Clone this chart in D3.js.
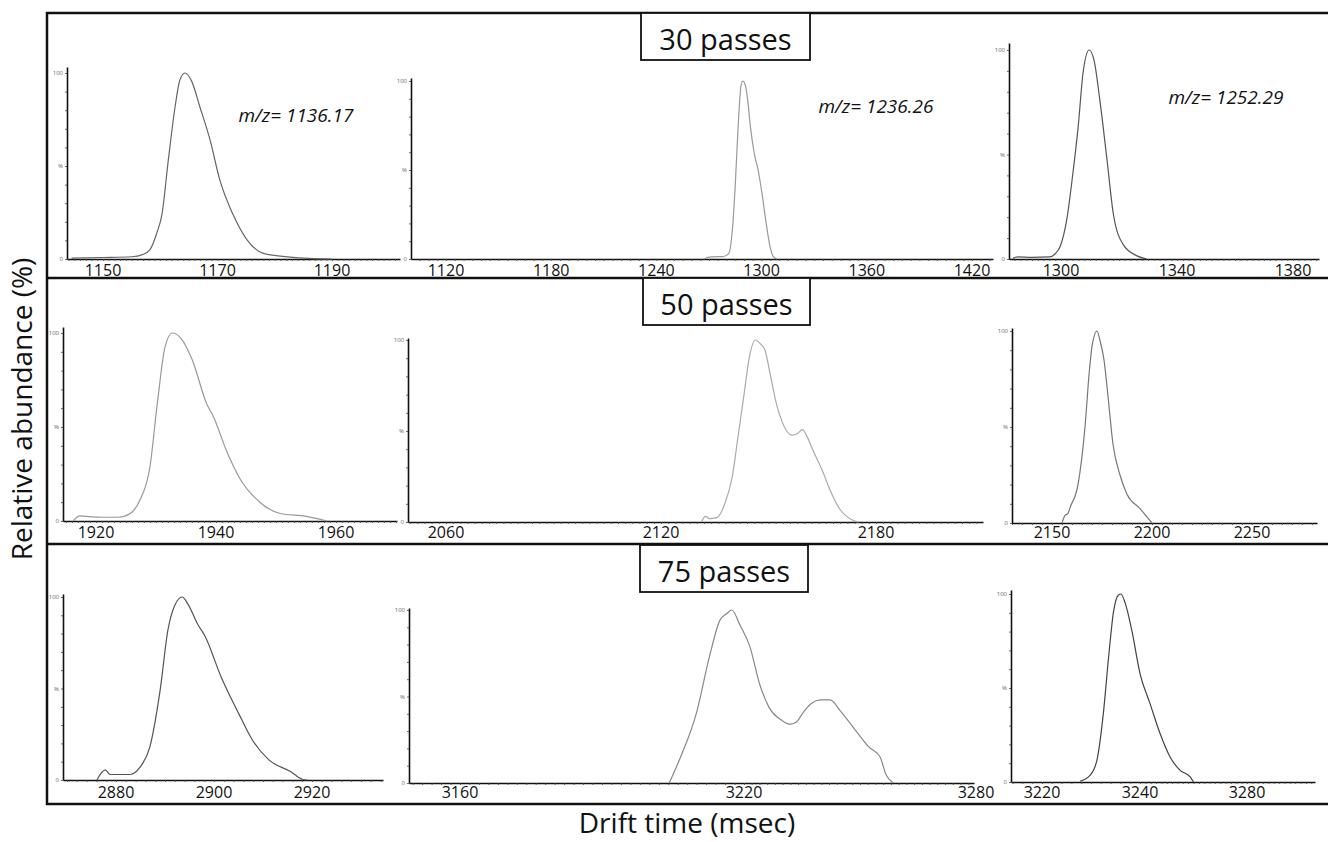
<!DOCTYPE html>
<html>
<head>
<meta charset="utf-8">
<script src="https://cdn.jsdelivr.net/npm/d3@7"></script>
<style>
  body { margin: 0; background: #fff; }
  svg { display: block; font-family: "Open Sans", sans-serif; }
</style>
</head>
<body>
<svg id="chart" width="1328" height="842"></svg>
<script>
// ---- data: [drift time, relative abundance %] ----
const rowTitles = ['30 passes', '50 passes', '75 passes'];
const mzLabels = ['m/z= 1136.17', 'm/z= 1236.26', 'm/z= 1252.29'];

const ticks30 = [[1150, 1170, 1190], [1120, 1180, 1240, 1300, 1360, 1420], [1300, 1340, 1380]];
const ticks50 = [[1920, 1940, 1960], [2060, 2120, 2180], [2150, 2200, 2250]];
const ticks75 = [[2880, 2900, 2920], [3160, 3220, 3280], [3220, 3240, 3280]];

const p30a = [[1144.5, 0.5], [1150, 0.8], [1155, 1.2], [1157, 2.5], [1158.2, 5], [1159.4, 14], [1160.3, 24], [1161.4, 53],
  [1162.6, 82], [1163.4, 96], [1164.3, 100], [1165.5, 95.5], [1166.9, 82], [1168.7, 64], [1170.4, 42.5], [1172.7, 24],
  [1175, 11], [1178, 3], [1182.7, 1], [1186, 0.3], [1190, 0]];
const p30b = [[1266.9, 0], [1271.3, 1.2], [1275.7, 1.3], [1277.9, 1.3], [1281.2, 3], [1283.3, 16], [1284.9, 40], [1286.7, 76],
  [1288.2, 97], [1289.2, 100], [1290.6, 98], [1292.1, 89], [1293.6, 74.5], [1295.8, 59.4], [1298.0, 50], [1300.2, 37],
  [1302.4, 21.5], [1304.6, 8], [1306.7, 1.3], [1308.9, 0]];
const p30c = [[1283.4, 0.3], [1285, 1], [1290, 0.8], [1296, 1], [1298, 2.5], [1299.7, 6], [1302, 19], [1304.1, 41],
  [1305.9, 63], [1307.6, 89], [1309.7, 100], [1311.4, 95], [1313.4, 76], [1315.9, 47], [1318, 22], [1321.4, 7],
  [1326.2, 1.5], [1329.6, 0]];

const p50a = [[1916.2, 0], [1917.3, 2.7], [1919, 2.3], [1921, 2], [1923.7, 2], [1925.7, 4], [1927.3, 11], [1929, 29],
  [1930.2, 62], [1931.5, 92.5], [1932.7, 100], [1934.2, 97], [1936, 86], [1938.5, 62], [1939.5, 56], [1941.8, 37],
  [1944, 22.5], [1947.3, 10], [1950.7, 4], [1955, 2.5], [1958.5, 0]];
const p50b = [[2131.3, 0], [2132.4, 3.1], [2133.5, 1.8], [2135.6, 2.4], [2137.8, 10], [2139.9, 25], [2141.5, 47],
  [2143.1, 69], [2144.7, 91], [2146.3, 100], [2147.7, 98], [2149, 94.5], [2150.6, 80], [2152.2, 65], [2153.8, 55],
  [2156.5, 47.7], [2158.1, 48.6], [2159.5, 50.8], [2160.7, 47.2], [2162.4, 39.4], [2165, 28.4], [2167.2, 17.4],
  [2169.8, 7.3], [2172, 2.8], [2174.1, 0.5], [2175.2, 0]];
const p50c = [[2155, 0], [2156.5, 4], [2158, 5], [2159, 8], [2163, 20], [2166.5, 50], [2168.5, 77], [2170, 92],
  [2172.5, 100], [2174, 95], [2176, 85], [2178, 66], [2180.5, 41], [2184, 25], [2187.5, 15], [2194, 7.5], [2200, 0]];

const p75a = [[2876.1, 0], [2877.8, 5.5], [2878.8, 3], [2882.9, 3], [2884.9, 7], [2886.9, 18], [2889, 49], [2890.6, 82],
  [2892, 95.5], [2893.5, 100], [2894.7, 96], [2896.7, 85], [2898.1, 79], [2901.5, 56], [2905.1, 36], [2907.8, 22],
  [2911.2, 11], [2915.7, 4.5], [2918, 0.4], [2919, 0]];
const p75b = [[3204.2, 0], [3206.6, 15], [3209.9, 40], [3212.7, 73], [3214.9, 94], [3216.4, 98], [3217.4, 100],
  [3219.2, 91], [3221.5, 79], [3224.0, 57.5], [3226.4, 44], [3229.9, 36], [3231.9, 34], [3233.4, 35], [3235.4, 41],
  [3237.4, 46], [3239.8, 48], [3242.3, 48], [3244.8, 42], [3248.3, 32], [3252.2, 21], [3255.2, 15], [3256.7, 5],
  [3258.7, 0]];
const p75c = [[3227.8, 0.5], [3229.8, 3.5], [3231.2, 11.5], [3232.5, 36], [3233.6, 66.6], [3234.6, 90.6], [3235.6, 99.5],
  [3236.1, 100], [3237, 95], [3238.3, 81], [3240, 57.7], [3243.75, 41.7], [3247.5, 25.8], [3251.25, 13.3],
  [3255, 6.2], [3258.75, 2.7], [3260, 0]];

// ---- layout: axis placement of each small plot, anchors are the tick label positions ----
const rows = [
  { top: 13, bottom: 278, box: [641, 13, 169, 47], labelY: 276, title: rowTitles[0], ticks: ticks30, series: [p30a, p30b, p30c],
    panels: [
      { x0: 67, x1: 400, y0: 259, y100: 73, yTop: 67, dom: [1150, 1190], rng: [103, 332], color: '#666' },
      { x0: 411, x1: 993, y0: 259, y100: 81, yTop: 78, dom: [1120, 1420], rng: [446, 972], color: '#999' },
      { x0: 1009, x1: 1319, y0: 259, y100: 50, yTop: 43, dom: [1300, 1380], rng: [1061, 1293], color: '#555' }
    ] },
  { top: 278, bottom: 544, box: [643, 278, 167, 47], labelY: 538, title: rowTitles[1], ticks: ticks50, series: [p50a, p50b, p50c],
    panels: [
      { x0: 63, x1: 397, y0: 521, y100: 333, yTop: 327, dom: [1920, 1960], rng: [96, 336], color: '#999' },
      { x0: 408, x1: 983, y0: 522, y100: 340, yTop: 338, dom: [2060, 2180], rng: [446, 876], color: '#aaa' },
      { x0: 1012, x1: 1317, y0: 523, y100: 331, yTop: 328, dom: [2150, 2250], rng: [1052, 1252], color: '#777' }
    ] },
  { top: 544, bottom: 804, box: [640, 545, 168, 47], labelY: 798, title: rowTitles[2], ticks: ticks75, series: [p75a, p75b, p75c],
    panels: [
      { x0: 63, x1: 383, y0: 780, y100: 597, yTop: 594, dom: [2880, 2920], rng: [116, 312], color: '#555' },
      { x0: 409, x1: 974, y0: 783, y100: 610, yTop: 608, dom: [3160, 3220, 3280], rng: [460, 744, 976], color: '#888' },
      { x0: 1011, x1: 1315, y0: 782, y100: 594, yTop: 590, dom: [3220, 3240, 3280], rng: [1042, 1140, 1247], color: '#444' }
    ] }
];
const mzPos = [[296, 122], [876, 113], [1226, 104]];

const svg = d3.select('#chart');
const frameLeft = 47;

// outer frame and row dividers
svg.append('rect')
  .attr('x', frameLeft).attr('y', 13)
  .attr('width', 1328 - frameLeft + 5).attr('height', 804 - 13)
  .attr('fill', 'none').attr('stroke', '#111').attr('stroke-width', 2.5);

rows.forEach(function(row, ri) {
  if (ri > 0) {
    svg.append('line')
      .attr('x1', frameLeft).attr('x2', 1328)
      .attr('y1', row.top).attr('y2', row.top)
      .attr('stroke', '#111').attr('stroke-width', 2.5);
  }

  row.panels.forEach(function(p, pi) {
    // anchor scale, then stretch it so it covers the whole axis line
    let anchor = d3.scaleLinear().domain(p.dom).range(p.rng);
    let d0 = anchor.invert(p.x0), d1 = anchor.invert(p.x1);
    let x = d3.scaleLinear()
      .domain([d0].concat(p.dom, [d1]))
      .range([p.x0].concat(p.rng, [p.x1]));

    let yMax = 100 * (p.y0 - p.yTop) / (p.y0 - p.y100);
    let y = d3.scaleLinear().domain([0, yMax]).range([p.y0, p.yTop]);

    let g = svg.append('g').attr('class', 'panel');

    // x axis: dotted look from many small ticks
    let minor = d3.ticks(d0, d1, Math.round((p.x1 - p.x0) / 7));
    g.append('g')
      .attr('transform', `translate(0, ${p.y0})`)
      .call(d3.axisBottom(x).tickValues(minor).tickSize(2).tickFormat('').tickSizeOuter(0))
      .call(s => s.select('.domain').attr('stroke', '#111').attr('stroke-width', 1.6))
      .call(s => s.selectAll('.tick line').attr('stroke', '#444').attr('stroke-width', 0.8));

    // big tick labels
    g.append('g')
      .selectAll('text')
      .data(row.ticks[pi])
      .join('text')
      .attr('x', d => x(d))
      .attr('y', row.labelY)
      .attr('text-anchor', 'middle')
      .attr('font-size', 16)
      .attr('fill', '#111')
      .text(d => d);

    // y axis with tiny labels
    g.append('g')
      .attr('transform', `translate(${p.x0}, 0)`)
      .call(d3.axisLeft(y).tickValues(d3.range(0, 101, 10)).tickSize(2).tickFormat('').tickSizeOuter(0))
      .call(s => s.select('.domain').attr('stroke', '#111').attr('stroke-width', 1.6))
      .call(s => s.selectAll('.tick line').attr('stroke', '#444').attr('stroke-width', 0.8));

    g.selectAll('text.ylab')
      .data([[100, '100'], [50, '%'], [0, '0']])
      .join('text')
      .attr('class', 'ylab')
      .attr('x', p.x0 - 4)
      .attr('y', d => y(d[0]))
      .attr('dy', '0.35em')
      .attr('text-anchor', 'end')
      .attr('font-size', 6)
      .attr('fill', '#666')
      .text(d => d[1]);

    // trace
    let line = d3.line()
      .x(d => x(d[0]))
      .y(d => y(d[1]))
      .curve(d3.curveMonotoneX);

    g.append('path')
      .datum(row.series[pi])
      .attr('d', line)
      .attr('fill', 'none')
      .attr('stroke', p.color)
      .attr('stroke-width', 1.2);
  });

  // row title box
  svg.append('rect')
    .attr('x', row.box[0]).attr('y', row.box[1])
    .attr('width', row.box[2]).attr('height', row.box[3])
    .attr('fill', '#fff').attr('stroke', '#111').attr('stroke-width', 1.8);
  svg.append('text')
    .attr('x', row.box[0] + row.box[2] / 2)
    .attr('y', row.box[1] + 37)
    .attr('text-anchor', 'middle')
    .attr('font-size', 29)
    .attr('fill', '#111')
    .text(row.title);
});

// m/z annotations
svg.selectAll('text.mz')
  .data(mzLabels)
  .join('text')
  .attr('class', 'mz')
  .attr('x', (d, i) => mzPos[i][0])
  .attr('y', (d, i) => mzPos[i][1])
  .attr('text-anchor', 'middle')
  .attr('font-size', 19)
  .attr('font-style', 'italic')
  .attr('fill', '#111')
  .text(d => d);

// axis titles
svg.append('text')
  .attr('transform', 'translate(32, 409) rotate(-90)')
  .attr('text-anchor', 'middle')
  .attr('font-size', 28)
  .attr('fill', '#111')
  .text('Relative abundance (%)');

svg.append('text')
  .attr('x', 687).attr('y', 833)
  .attr('text-anchor', 'middle')
  .attr('font-size', 28)
  .attr('fill', '#111')
  .text('Drift time (msec)');
</script>
</body>
</html>
